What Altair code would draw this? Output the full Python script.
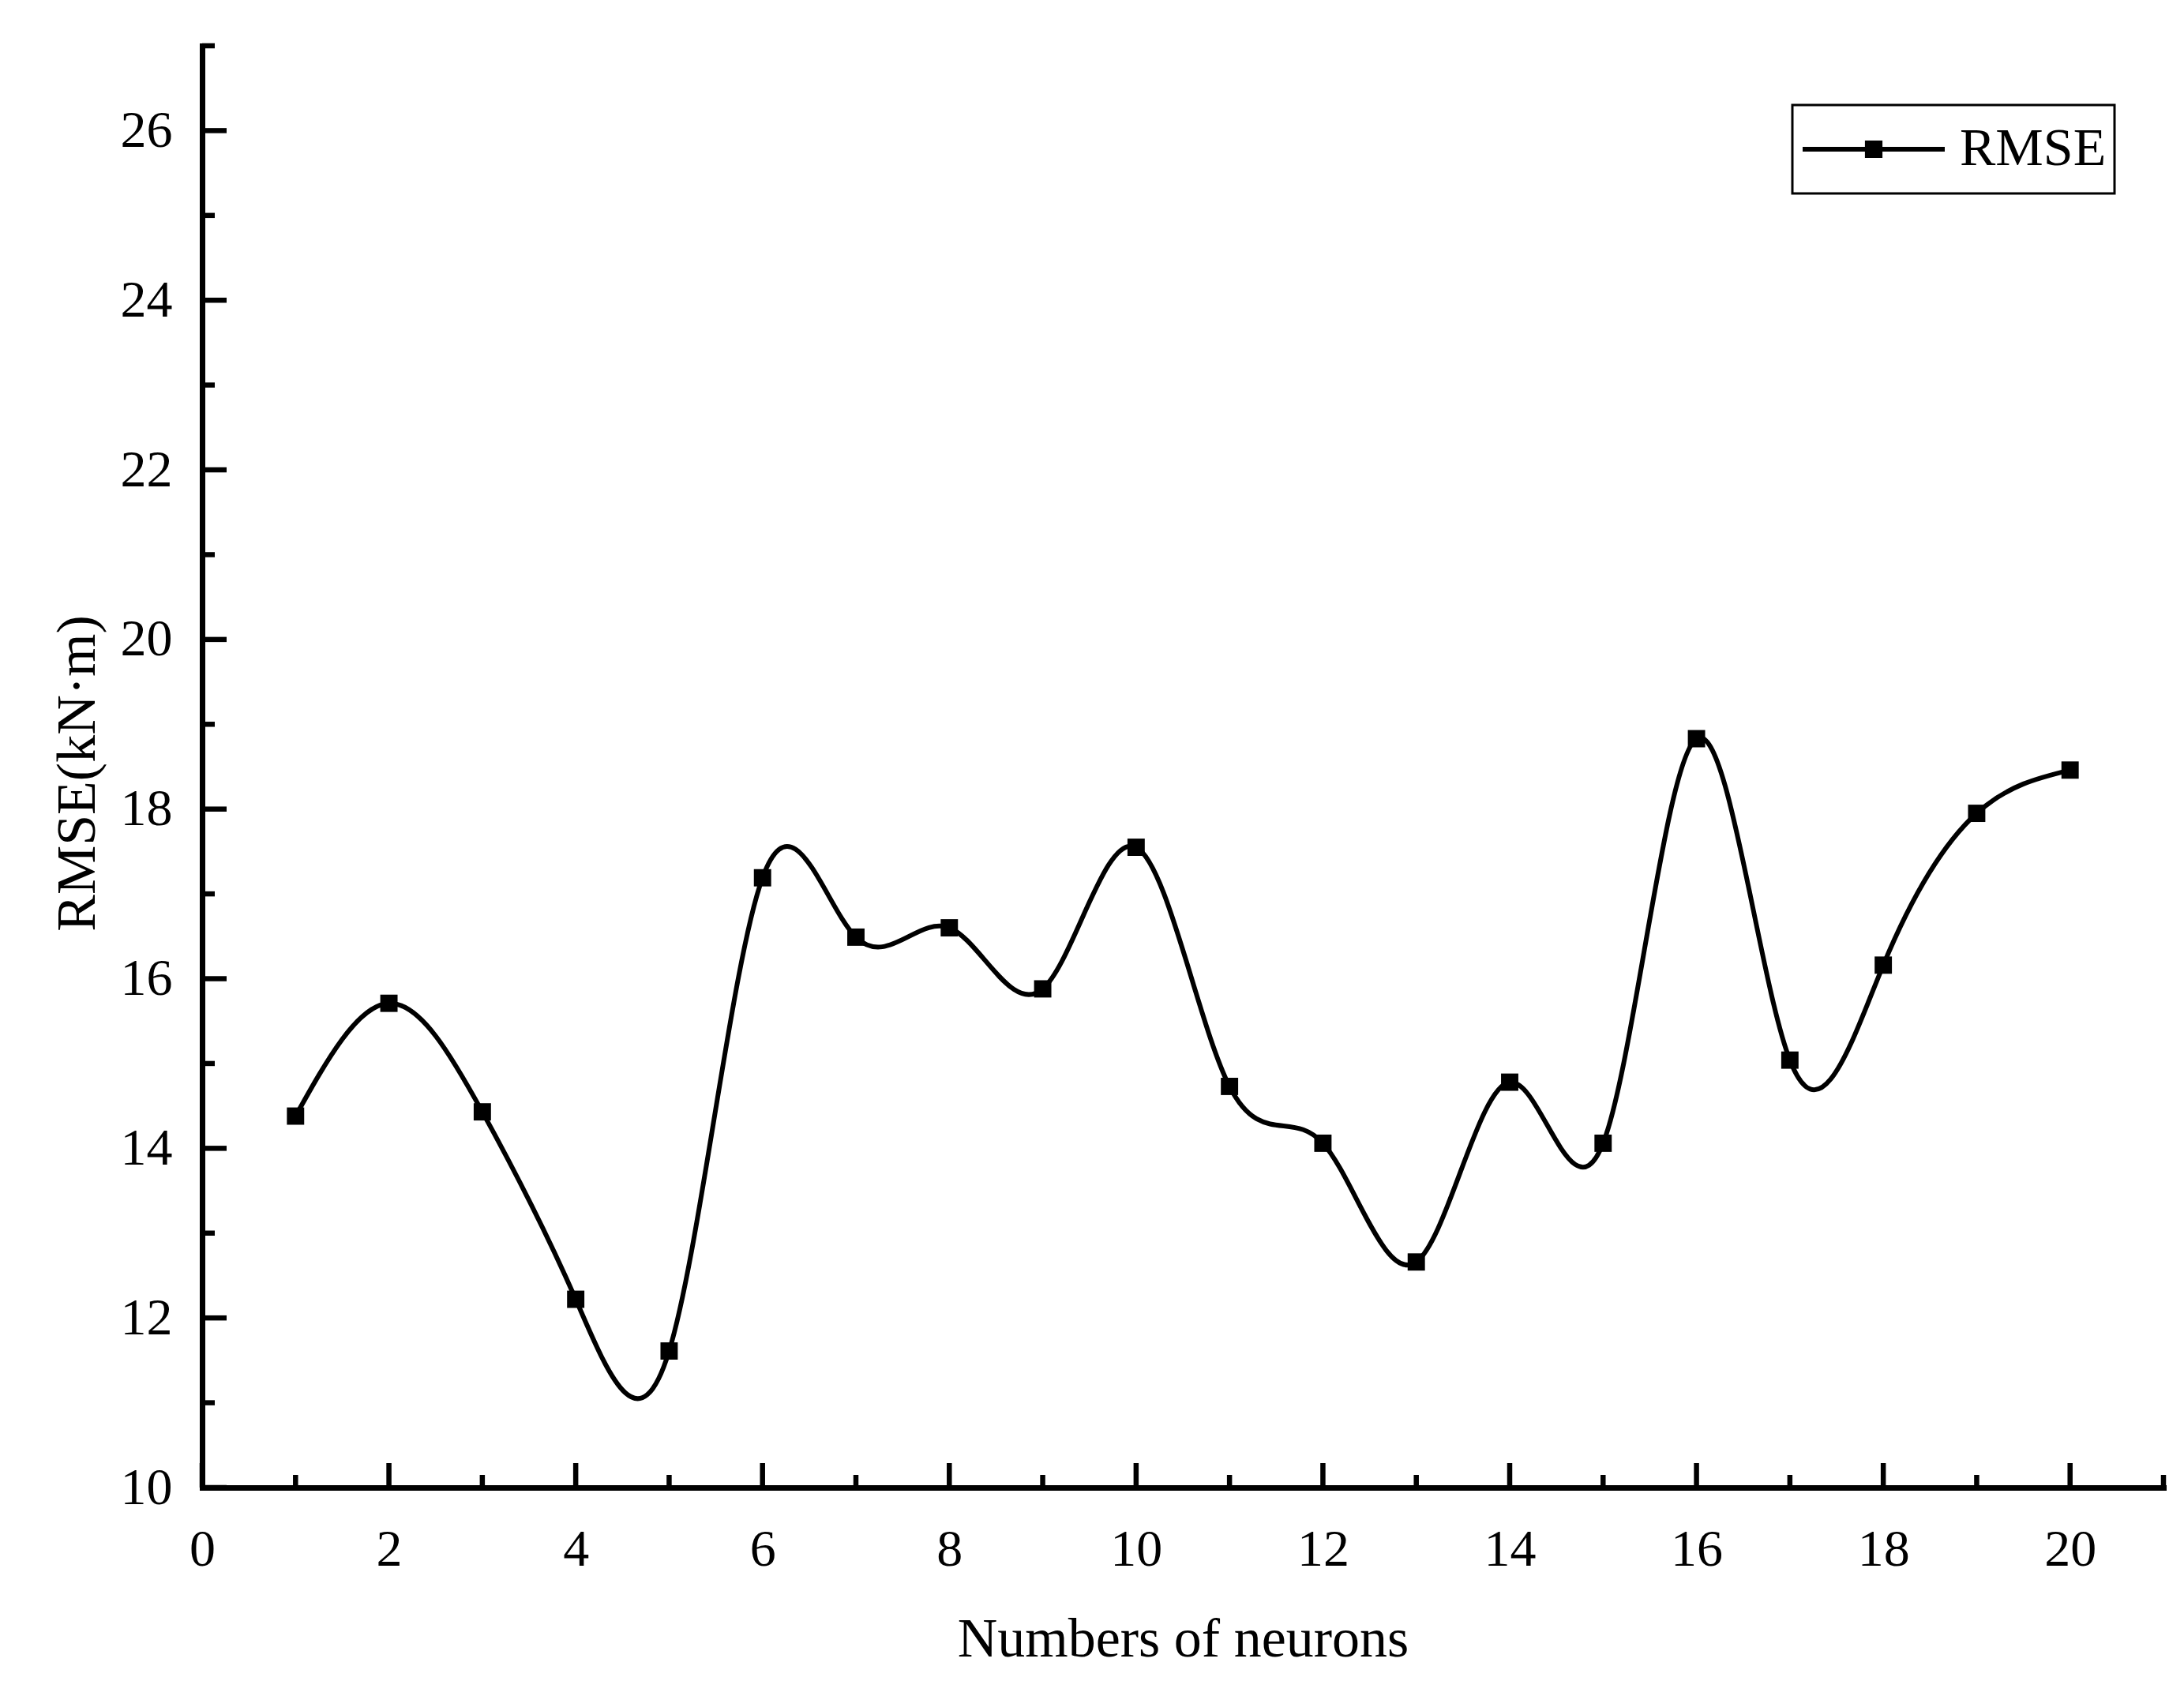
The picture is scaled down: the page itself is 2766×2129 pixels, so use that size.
import altair as alt
import pandas as pd

# ---- data ----
neurons = list(range(1, 21))
rmse = [14.38, 15.71, 14.43, 12.22, 11.61, 17.19, 16.49, 16.60, 15.88, 17.55,
        14.73, 14.06, 12.66, 14.78, 14.06, 18.83, 15.04, 16.16, 17.95, 18.46]
series_name = ["RMSE"] * len(neurons)

x_major = [0, 2, 4, 6, 8, 10, 12, 14, 16, 18, 20]
x_minor = [1, 3, 5, 7, 9, 11, 13, 15, 17, 19, 21]
y_major = [10, 12, 14, 16, 18, 20, 22, 24, 26]
y_minor = [11, 13, 15, 17, 19, 21, 23, 25, 27]

W, H = 2484, 1826
FONT = "Liberation Serif"
MAJ, MIN = 31, 16

df = pd.DataFrame({"n": neurons, "rmse": rmse, "series": series_name})

xs = alt.Scale(domain=[0, 21], nice=False, zero=False)
ys = alt.Scale(domain=[10, 27], nice=False, zero=False)

x_axis = alt.Axis(values=x_major, format="d", ticks=False, tickSize=0, grid=False,
                  domainWidth=7, domainColor="black", domainCap="square",
                  labelFont=FONT, labelFontSize=66, labelColor="black",
                  labelBaseline="middle", labelPadding=78, labelFlush=False,
                  title="Numbers of neurons", titleFont=FONT, titleFontSize=70,
                  titleFontWeight="normal", titleColor="black",
                  titleBaseline="middle", titleY=192)
y_axis = alt.Axis(values=y_major, format="d", ticks=False, tickSize=0, grid=False,
                  domainWidth=7, domainColor="black", domainCap="square",
                  labelFont=FONT, labelFontSize=66, labelColor="black",
                  labelPadding=38, labelFlush=False,
                  title="RMSE(kN·m)", titleFont=FONT, titleFontSize=70,
                  titleFontWeight="normal", titleColor="black",
                  titleAngle=-90, titleBaseline="middle", titleAlign="center",
                  titleX=-158, titleY=H / 2 + 8)

legend_path = "M-1,0H1M-0.09,-0.09H0.09V0.09H-0.09Z"

line = alt.Chart(df).mark_line(interpolate="natural", strokeWidth=6, color="black").encode(
    x=alt.X("n:Q", scale=xs, axis=x_axis),
    y=alt.Y("rmse:Q", scale=ys, axis=y_axis),
    color=alt.Color("series:N", scale=alt.Scale(range=["black"]),
                    legend=alt.Legend(title=None, orient="none", legendX=2014, legendY=75,
                                      symbolType=legend_path, symbolSize=32400,
                                      symbolStrokeWidth=6, symbolFillColor="black",
                                      symbolStrokeColor="black", symbolOpacity=1,
                                      labelFont=FONT, labelFontSize=68, labelColor="black",
                                      labelOffset=16, labelLimit=800, padding=10,
                                      clipHeight=92,
                                      strokeColor="black")),
)

points = alt.Chart(df).mark_point(shape="square", filled=True, size=480, color="black", opacity=1).encode(
    x=alt.X("n:Q", scale=xs),
    y=alt.Y("rmse:Q", scale=ys),
)

xmaj = alt.Chart(pd.DataFrame({"v": x_major})).mark_rule(color="black", strokeWidth=6.5).encode(
    x=alt.X("v:Q", scale=xs), y=alt.value(H), y2=alt.value(H - MAJ))
xmin = alt.Chart(pd.DataFrame({"v": x_minor})).mark_rule(color="black", strokeWidth=6.5).encode(
    x=alt.X("v:Q", scale=xs), y=alt.value(H), y2=alt.value(H - MIN))
ymaj = alt.Chart(pd.DataFrame({"v": y_major})).mark_rule(color="black", strokeWidth=6.5).encode(
    y=alt.Y("v:Q", scale=ys), x=alt.value(0), x2=alt.value(MAJ))
ymin = alt.Chart(pd.DataFrame({"v": y_minor})).mark_rule(color="black", strokeWidth=6.5).encode(
    y=alt.Y("v:Q", scale=ys), x=alt.value(0), x2=alt.value(MIN))

chart = alt.layer(xmaj, xmin, ymaj, ymin, line, points).properties(
    width=W, height=H,
    autosize=alt.AutoSizeParams(type="none"),
    padding={"left": 248, "top": 50, "right": 18, "bottom": 237},
).configure_view(stroke=None).configure_legend(strokeWidth=3)

chart.save("out.html", embed_options={"renderer": "svg", "actions": False})
